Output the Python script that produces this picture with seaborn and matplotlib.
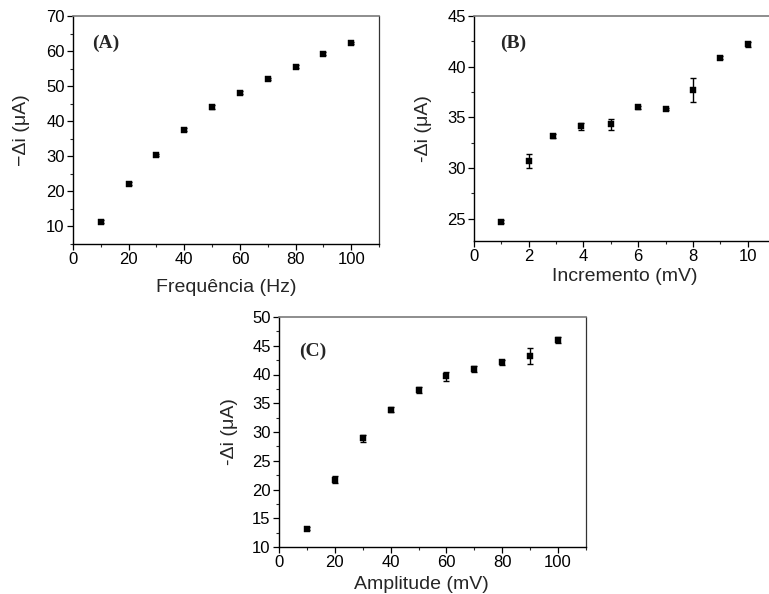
import matplotlib
matplotlib.use("Agg")
import matplotlib.pyplot as plt
from matplotlib.ticker import MultipleLocator
import seaborn as sns
import pandas as pd

sns.set_style("ticks")
plt.rcParams["font.family"] = ["Liberation Sans", "DejaVu Sans"]

# (A) frequency study
freq_hz = [10, 20, 30, 40, 50, 60, 70, 80, 90, 100]
freq_di = [11.4, 22.2, 30.5, 37.6, 44.0, 48.1, 52.0, 55.6, 59.3, 62.3]
freq_err = [0.5, 0.4, 0.3, 0.4, 0.5, 0.4, 0.3, 0.3, 0.4, 0.4]

# (B) step increment study
incr_mv = [1, 2, 2.9, 3.9, 5, 6, 7, 8, 9, 10]
incr_di = [24.7, 30.7, 33.2, 34.1, 34.3, 36.0, 35.8, 37.7, 40.9, 42.2]
incr_err = [0.15, 0.7, 0.2, 0.3, 0.5, 0.15, 0.1, 1.2, 0.15, 0.25]

# (C) pulse amplitude study
amp_mv = [10, 20, 30, 40, 50, 60, 70, 80, 90, 100]
amp_di = [13.2, 21.7, 28.9, 33.9, 37.3, 39.7, 41.0, 42.1, 43.2, 46.0]
amp_err = [0.3, 0.6, 0.6, 0.5, 0.6, 0.8, 0.5, 0.5, 1.4, 0.5]

W, H = 769, 594
fig = plt.figure(figsize=(W / 100, H / 100), dpi=100)


def px_axes(left, top, right, bottom):
    ax = fig.add_axes([left / W, 1 - bottom / H, (right - left) / W, (bottom - top) / H])
    ax._px = (right - left, bottom - top)
    return ax


def draw_panel(ax, x, y, err, tag, xlabel, ylabel, xlim, ylim, xmaj, ymaj,
               xlab_top, ylab_gap, tag_dx, tag_dy, xlab_x=0.5):
    pw, ph = ax._px
    df = pd.DataFrame({"x": x, "y": y})
    ax.errorbar(x, y, yerr=err, fmt="none", ecolor="black", elinewidth=1.0,
                capsize=2.5, capthick=1.0, zorder=2)
    sns.scatterplot(data=df, x="x", y="y", ax=ax, marker="s", s=13,
                    color="black", edgecolor="black", linewidth=0.3, zorder=3)
    ax.set_xlim(*xlim)
    ax.set_ylim(*ylim)
    ax.xaxis.set_major_locator(MultipleLocator(xmaj))
    ax.xaxis.set_minor_locator(MultipleLocator(xmaj / 2))
    ax.yaxis.set_major_locator(MultipleLocator(ymaj))
    ax.yaxis.set_minor_locator(MultipleLocator(ymaj / 2))
    ax.tick_params(axis="both", which="major", direction="out", length=4,
                   width=0.9, labelsize=12, colors="black", pad=2)
    ax.tick_params(axis="both", which="minor", direction="out", length=2,
                   width=0.8)
    for side in ("left", "bottom"):
        ax.spines[side].set_color("black")
        ax.spines[side].set_linewidth(1.0)
    ax.spines["top"].set_color("#7a7a7a")
    ax.spines["top"].set_linewidth(1.2)
    ax.spines["right"].set_color("#333333")
    ax.spines["right"].set_linewidth(0.9)
    ax.set_xlabel(xlabel, fontsize=14)
    ax.set_ylabel(ylabel, fontsize=14)
    ax.xaxis.set_label_coords(xlab_x, -xlab_top / ph)
    ax.yaxis.set_label_coords(-ylab_gap / pw, 0.5)
    ax.text(tag_dx / pw, 1 - tag_dy / ph, tag, transform=ax.transAxes,
            fontsize=14, fontweight="bold",
            family=["Liberation Serif", "DejaVu Serif"],
            va="center", ha="left")


# panel A
axA = px_axes(73, 16, 379, 244)
draw_panel(axA, freq_hz, freq_di, freq_err, "(A)", "Frequência (Hz)",
           "\u2212\u0394i (\u03bcA)", (0, 110), (5, 70), 20, 10,
           xlab_top=35, ylab_gap=43, tag_dx=19, tag_dy=27)

# panel B (runs past the right edge of the canvas)
axB = px_axes(474, 16, 775, 241)
draw_panel(axB, incr_mv, incr_di, incr_err, "(B)", "Incremento (mV)",
           "-\u0394i (\u03bcA)", (0, 11), (22.8, 45), 2, 5,
           xlab_top=27, ylab_gap=42, tag_dx=26, tag_dy=27)

# panel C
axC = px_axes(279, 317, 586, 547)
draw_panel(axC, amp_mv, amp_di, amp_err, "(C)", "Amplitude (mV)",
           "-\u0394i (\u03bcA)", (0, 110), (10, 50), 20, 5,
           xlab_top=29, ylab_gap=41, tag_dx=20, tag_dy=34, xlab_x=0.463)
axC.xaxis.set_minor_locator(MultipleLocator(10))
axC.yaxis.set_minor_locator(MultipleLocator(2.5))
axB.yaxis.set_minor_locator(MultipleLocator(2.5))

fig.savefig("out.png", dpi=100)
